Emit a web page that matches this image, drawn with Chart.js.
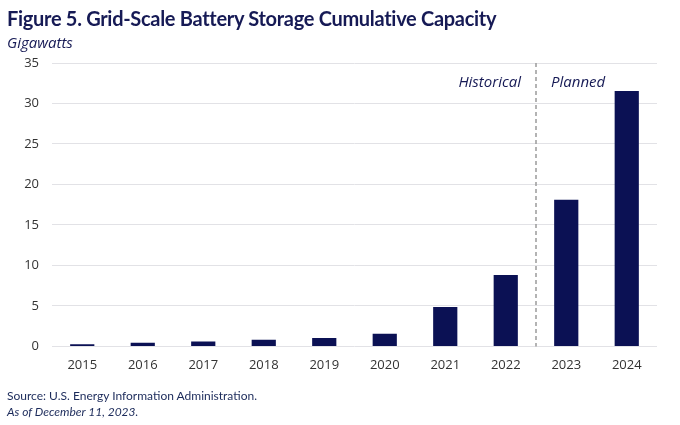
<!DOCTYPE html>
<html>
<head>
<meta charset="utf-8">
<script src="https://cdn.jsdelivr.net/npm/chart.js@4"></script>
<style>
  html, body { margin: 0; padding: 0; background: #fff; }
  #wrap { position: relative; width: 680px; height: 425px; overflow: hidden; font-family: Lato, "Open Sans", sans-serif; }
  #title { position: absolute; left: 7px; top: 6px; font-size: 20px; font-weight: 700; color: #161a55; white-space: nowrap; letter-spacing: -0.3px; }
  #unit { position: absolute; left: 7px; top: 32px; font-size: 15px; font-style: italic; color: #161a55; font-family: "Open Sans", sans-serif; }
  #src { position: absolute; left: 7px; top: 388px; font-size: 12px; color: #1b2a5a; }
  #asof { position: absolute; left: 7px; top: 404px; font-size: 12px; font-style: italic; color: #1b2a5a; }
  canvas { position: absolute; left: 0; top: 0; }
</style>
</head>
<body>
<div id="wrap">
  <canvas id="c" width="680" height="425"></canvas>
  <div id="title">Figure 5. Grid-Scale Battery Storage Cumulative Capacity</div>
  <div id="unit">Gigawatts</div>
  <div id="src">Source: U.S. Energy Information Administration.</div>
  <div id="asof">As of December 11, 2023.</div>
</div>
<script>
const years = ["2015","2016","2017","2018","2019","2020","2021","2022","2023","2024"];
const capacity = [0.28, 0.45, 0.62, 0.83, 1.03, 1.55, 4.87, 8.83, 18.1, 31.55];
const yTicks = [0, 5, 10, 15, 20, 25, 30, 35];
const periodLabels = ["Historical", "Planned"];
const dividerAfter = "2022";
const labelValue = 32.6;

const divider = {
  id: 'divider',
  afterDatasetsDraw(chart) {
    const { ctx, scales: { x, y } } = chart;
    const i = years.indexOf(dividerAfter);
    const xp = (x.getPixelForValue(i) + x.getPixelForValue(i + 1)) / 2;
    ctx.save();
    ctx.strokeStyle = '#9a9a9a';
    ctx.lineWidth = 1.5;
    ctx.setLineDash([4, 3]);
    ctx.beginPath();
    ctx.moveTo(xp, y.getPixelForValue(yTicks[yTicks.length - 1]));
    ctx.lineTo(xp, y.getPixelForValue(0));
    ctx.stroke();
    ctx.setLineDash([]);
    ctx.fillStyle = '#161a55';
    ctx.font = 'italic 15px "Open Sans", sans-serif';
    ctx.textBaseline = 'middle';
    const yp = y.getPixelForValue(labelValue);
    ctx.textAlign = 'right';
    ctx.fillText(periodLabels[0], xp - 15, yp);
    ctx.textAlign = 'left';
    ctx.fillText(periodLabels[1], xp + 15, yp);
    ctx.restore();
  }
};

new Chart(document.getElementById('c'), {
  type: 'bar',
  data: {
    labels: years,
    datasets: [{
      data: capacity,
      backgroundColor: '#0b1154',
      categoryPercentage: 0.8,
      barPercentage: 0.5
    }]
  },
  options: {
    responsive: false,
    animation: false,
    devicePixelRatio: 1,
    layout: { padding: { top: 63, right: 23, bottom: 41, left: 0 } },
    plugins: { legend: { display: false }, tooltip: { enabled: false } },
    scales: {
      x: {
        grid: { display: false, drawTicks: false },
        border: { display: false },
        ticks: { color: '#333', font: { size: 13, family: '"Open Sans", sans-serif' }, padding: 11 }
      },
      y: {
        min: 0, max: 35,
        afterBuildTicks(scale) { scale.ticks = yTicks.map(v => ({ value: v })); },
        afterFit(scale) { scale.width = 52; },
        grid: { color: '#e2e2e6', lineWidth: 1, drawTicks: false },
        border: { display: false },
        ticks: { color: '#333', font: { size: 13, family: '"Open Sans", sans-serif' }, padding: 13 }
      }
    }
  },
  plugins: [divider]
});
</script>
</body>
</html>
